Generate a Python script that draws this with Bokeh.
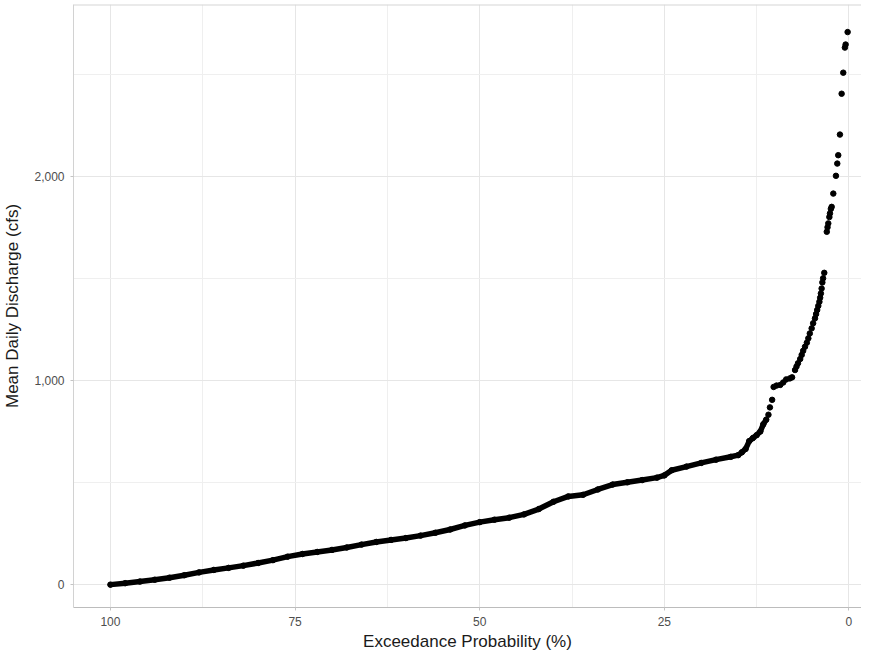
from bokeh.plotting import figure
from bokeh.models import Range1d, FixedTicker, NumeralTickFormatter, Span
from bokeh.embed import file_html
from bokeh.resources import INLINE

# Flow duration curve
exceed_dense = [100, 98, 96, 94, 92, 90, 88, 86, 84, 82, 80, 78, 76, 74, 72, 70,
                68, 66, 64, 62, 60, 58, 56, 54, 52, 50, 48, 46, 44, 42, 40, 38,
                36, 34, 32, 30, 28, 26, 25, 24, 22, 20, 18, 16, 15, 14.5, 14,
                13.5, 13, 12.5, 12, 11.6, 11.2]
flow_dense = [0, 7, 15, 24, 34, 46, 60, 72, 82, 93, 106, 120, 137, 150, 160, 170,
              182, 196, 209, 219, 228, 240, 254, 270, 290, 306, 318, 328, 344, 370, 406, 432,
              440, 466, 490, 501, 512, 524, 535, 560, 578, 596, 612, 626, 634, 648, 664,
              703, 718, 732, 750, 785, 808]

exceed_high = [10.9, 10.7, 10.4, 10.2, 9.8, 9.3, 8.9, 8.5, 8.0, 7.7, 7.3, 7.1, 6.9,
               6.6, 6.4, 6.2, 5.95, 5.7, 5.5, 5.3, 5.05, 4.85, 4.6, 4.45, 4.3, 4.15,
               4.0, 3.9, 3.8, 3.7, 3.6, 3.5, 3.34, 3.0, 2.9, 2.8, 2.65, 2.57, 2.45,
               2.34, 2.12, 1.76, 1.58, 1.45, 1.22, 0.99, 0.77, 0.55, 0.45, 0.18]
flow_high = [832, 868, 905, 968, 975, 978, 990, 1005, 1010, 1015, 1051, 1068, 1084,
             1105, 1125, 1145, 1165, 1185, 1206, 1230, 1255, 1280, 1304, 1325, 1345, 1365,
             1385, 1405, 1426, 1450, 1480, 1500, 1527, 1728, 1750, 1769, 1800, 1818, 1840,
             1850, 1915, 2002, 2062, 2103, 2204, 2404, 2507, 2630, 2645, 2706]

x_ticks = [0, 25, 50, 75, 100]
x_minor = [12.5, 37.5, 62.5, 87.5]
y_ticks = [0, 1000, 2000]
y_minor = [500, 1500, 2500]

FONT = "Liberation Sans"

p = figure(width=861, height=653, output_backend="svg", toolbar_location=None,
           x_range=Range1d(105, -1.7), y_range=Range1d(-112, 2841),
           min_border_left=65, min_border_top=4, min_border_right=0, min_border_bottom=0)

p.background_fill_color = "white"
p.border_fill_color = "white"
p.outline_line_color = None

# grid
p.xgrid.ticker = FixedTicker(ticks=x_ticks, minor_ticks=x_minor)
p.ygrid.ticker = FixedTicker(ticks=y_ticks, minor_ticks=y_minor)
for g in (p.xgrid, p.ygrid):
    g.grid_line_color = "#e6e6e6"
    g.grid_line_width = 1
    g.minor_grid_line_color = "#efefef"
    g.minor_grid_line_width = 1

# axes
p.xaxis.ticker = FixedTicker(ticks=x_ticks, minor_ticks=x_minor)
p.yaxis.ticker = FixedTicker(ticks=y_ticks, minor_ticks=y_minor)
p.yaxis.formatter = NumeralTickFormatter(format="0,0")
p.xaxis.axis_label = "Exceedance Probability (%)"
p.yaxis.axis_label = "Mean Daily Discharge (cfs)"
for ax in (p.xaxis[0], p.yaxis[0]):
    ax.major_label_text_font = FONT
    ax.major_label_text_font_size = "12px"
    ax.major_label_text_color = "#4d4d4d"
    ax.axis_label_text_font = FONT
    ax.axis_label_text_font_size = "17px"
    ax.axis_label_text_font_style = "normal"
    ax.axis_label_text_color = "#1a1a1a"
    ax.major_tick_in = 0
    ax.major_tick_out = 3
    ax.major_tick_line_color = "#c4c4c4"
    ax.minor_tick_line_color = None
    ax.major_label_standoff = 5
p.xaxis.axis_label_standoff = 3
p.xaxis.axis_line_color = "#bcbcbc"
p.yaxis.axis_line_color = "#d2d2d2"
p.yaxis.axis_label_standoff = 9

top_border = Span(location=2841, dimension="width", line_color="#d6d6d6", line_width=2)
p.add_layout(top_border)

# data
p.line(exceed_dense, flow_dense, line_color="black", line_width=5.5,
       line_join="round", line_cap="round")
p.scatter(exceed_dense, flow_dense, size=5.5, color="black")
p.scatter(exceed_high, flow_high, size=5.5, color="black")

open("out.html", "w").write(file_html(p, INLINE))
